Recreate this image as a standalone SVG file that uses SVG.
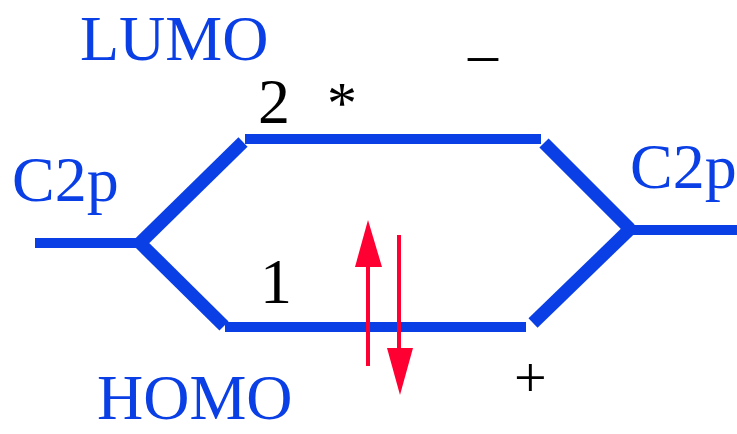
<svg xmlns="http://www.w3.org/2000/svg" width="737" height="434" viewBox="0 0 737 434">
<defs>
<style>
.lvl{stroke:#0a3fe6;stroke-width:10;stroke-linecap:butt;fill:none}
.dg{stroke:#0a3fe6;stroke-width:13;stroke-linecap:butt;fill:none}
.bl{font-family:"Liberation Serif",serif;font-size:64px;fill:#0a3fe6}
.bk{font-family:"Liberation Serif",serif;fill:#000}
.ar{stroke:#ff0033;stroke-width:4;fill:none}
.ah{fill:#ff0033}
</style>
</defs>
<rect width="737" height="434" fill="#fff"/>
<g id="connectors">
<line class="lvl" x1="35" y1="243" x2="142" y2="243"/>
<line class="dg" x1="140" y1="243" x2="243" y2="142"/>
<line class="dg" x1="140" y1="243" x2="224" y2="326"/>
<line class="lvl" x1="245" y1="139" x2="541" y2="139"/>
<line class="lvl" x1="225" y1="327" x2="526" y2="327"/>
<line class="dg" x1="544" y1="143" x2="630" y2="229"/>
<line class="dg" x1="630" y1="229" x2="533" y2="323"/>
<line class="lvl" x1="628" y1="230" x2="737" y2="230"/>
</g>
<g id="lumo"><text class="bl" x="80" y="60">LUMO</text></g>
<g id="homo"><text class="bl" x="97" y="419">HOMO</text></g>
<g id="c2p-left"><text class="bl" x="12" y="201">C2p</text></g>
<g id="c2p-right"><text class="bl" x="630" y="188">C2p</text></g>
<g id="level2">
<text class="bk" x="327" y="123" font-size="60">*</text>
<text class="bk" x="258" y="123" font-size="64">2</text>
<text class="bk" x="468" y="73" font-size="60">–</text>
</g>
<g id="level1">
<text class="bk" x="260" y="303" font-size="64">1</text>
<text class="bk" x="514" y="397" font-size="58">+</text>
</g>
<g id="electrons">
<line class="ar" x1="368" y1="366" x2="368" y2="262"/>
<polygon class="ah" points="368,220 355,267 382,267"/>
<line class="ar" x1="399" y1="235" x2="399" y2="352"/>
<polygon class="ah" points="400,395 387,348 413,348"/>
</g>
</svg>
